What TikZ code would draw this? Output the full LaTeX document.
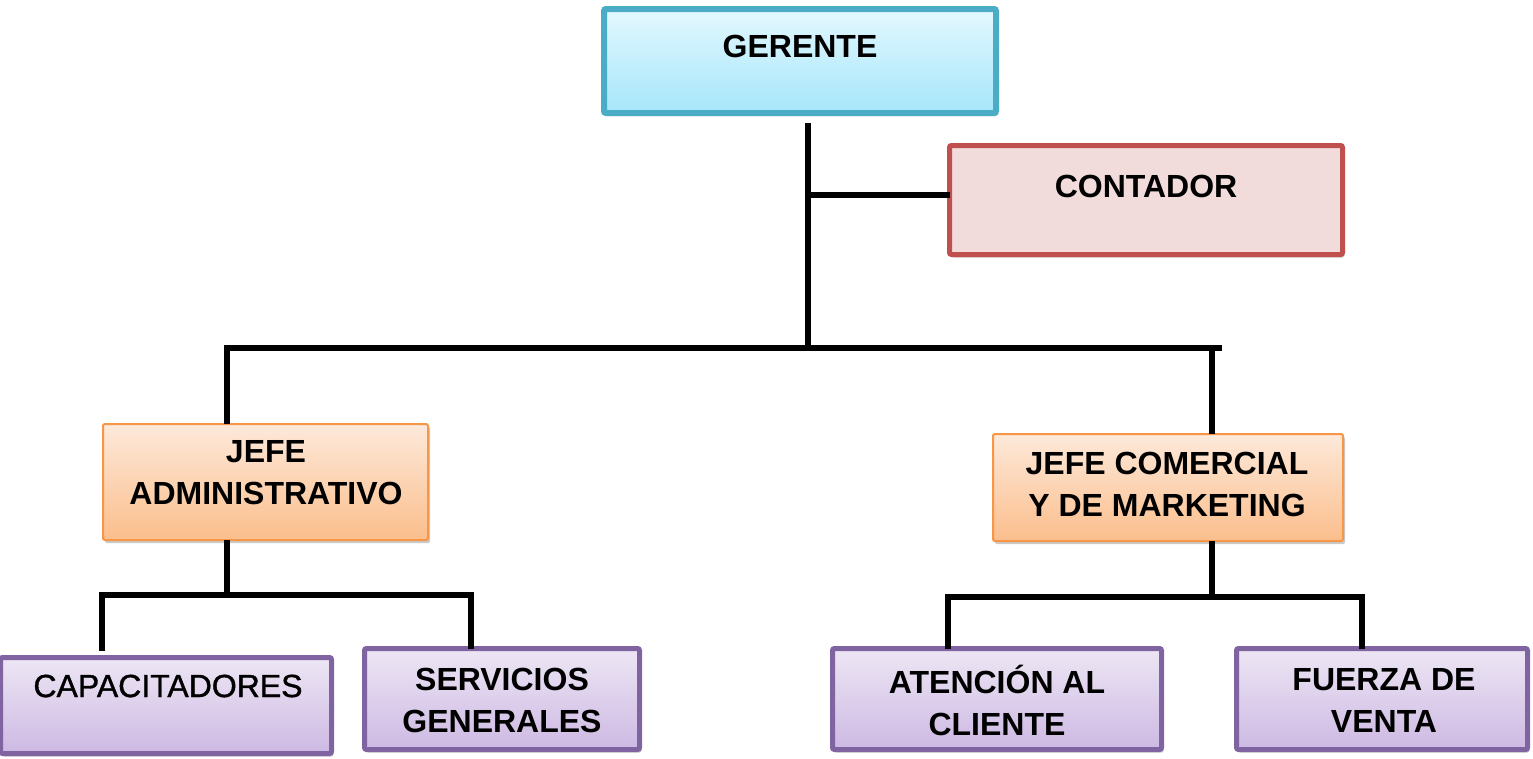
\documentclass[tikz,border=0pt]{standalone}
\usepackage{fontspec}
\setmainfont{Liberation Sans}
\newfontfamily\capfont[FakeBold=1.2]{Liberation Sans}
\usetikzlibrary{shadows}
\definecolor{gerB}{HTML}{4BACC6}
\definecolor{gerT}{HTML}{E3F8FE}
\definecolor{gerD}{HTML}{A6E6FA}
\definecolor{conB}{HTML}{C0504D}
\definecolor{conF}{HTML}{F2DCDB}
\definecolor{jefB}{HTML}{F79646}
\definecolor{jefT}{HTML}{FDE9DA}
\definecolor{jefD}{HTML}{FBBE8C}
\definecolor{purB}{HTML}{8064A2}
\definecolor{purT}{HTML}{EDE6F4}
\definecolor{purD}{HTML}{CDB9E3}
\tikzset{
  boxbase/.style={rectangle, rounded corners=2pt, inner sep=0pt, outer sep=0pt,
    drop shadow={shadow xshift=2pt, shadow yshift=-3pt, opacity=0.35, fill=black!60}},
  gerbox/.style={boxbase, draw=gerB, line width=6pt, top color=gerT, bottom color=gerD},
  conbox/.style={boxbase, draw=conB, line width=5pt, fill=conF},
  jefbox/.style={boxbase, draw=jefB, line width=2pt, top color=jefT, bottom color=jefD},
  purbox/.style={boxbase, draw=purB, line width=5pt, top color=purT, bottom color=purD},
  lbl/.style={inner sep=0pt, align=center, font=\bfseries\fontsize{32}{42}\selectfont},
  lblreg/.style={inner sep=0pt, align=center, font=\capfont\fontsize{32}{42}\selectfont},
  conn/.style={draw=black, line width=5.5pt, line cap=butt, line join=miter}
}
\begin{document}
\begin{tikzpicture}[x=1pt,y=-1pt]
\useasboundingbox (0,0) rectangle (1533,758);
% boxes
\node[gerbox, minimum width=392pt, minimum height=104pt] (ger) at (800,61) {};
\node[conbox, minimum width=393pt, minimum height=109pt] (con) at (1146,200) {};
\node[jefbox, minimum width=325pt, minimum height=116pt] (ja) at (265.5,482) {};
\node[jefbox, minimum width=350pt, minimum height=107pt] (jc) at (1168,487.5) {};
\node[purbox, minimum width=331pt, minimum height=96pt] (cap) at (166,705.5) {};
\node[purbox, minimum width=275pt, minimum height=101pt] (ser) at (502,699) {};
\node[purbox, minimum width=329pt, minimum height=101pt] (ate) at (997,699) {};
\node[purbox, minimum width=291pt, minimum height=101pt] (fue) at (1382,699) {};
% labels
\node[lbl] (gerL) at (800,46) {GERENTE};
\node[lbl] (conL) at (1146,186) {CONTADOR};
\node[lbl] (jaL) at (266,473) {JEFE\\ADMINISTRATIVO};
\node[lbl] (jcL) at (1167,484) {JEFE COMERCIAL\\Y DE MARKETING};
\node[lblreg] (capL) at (168,686) {CAPACITADORES};
\node[lbl] (serL) at (502,700) {SERVICIOS\\GENERALES};
\node[lbl] (ateL) at (997,700) {ATENCIÓN AL\\CLIENTE};
\node[lbl] (fueL) at (1384,700) {FUERZA DE\\VENTA};
% junction coordinates
\coordinate (gtop) at ([xshift=8pt,yshift=-10pt]ger.south);
\coordinate (bar) at (808,348);
\coordinate (jaT) at (227,348);
\coordinate (jcT) at (1212,348);
\coordinate (barEnd) at (1222,348);
\coordinate (la) at (227,595);
\coordinate (laL) at (102,595);
\coordinate (laR) at (471,595);
\coordinate (lc) at (1212,597);
\coordinate (lcL) at (948,597);
\coordinate (lcR) at (1362,597);
% connectors
\draw[conn] (gtop) -- (bar);
\draw[conn] ([yshift=5pt]con.west) -- ([yshift=5pt]con.west -| gtop);
\draw[conn] (ja.north -| jaT) -- (jaT) -- (barEnd);
\draw[conn] (jcT) -- (jc.north -| jcT);
\draw[conn] (ja.south -| la) -- (la);
\draw[conn] ([yshift=7pt]cap.north -| laL) -- (laL) -- (laR) -- (ser.north -| laR);
\draw[conn] (jc.south -| lc) -- (lc);
\draw[conn] (ate.north -| lcL) -- (lcL) -- (lcR) -- (fue.north -| lcR);
\end{tikzpicture}
\end{document}
